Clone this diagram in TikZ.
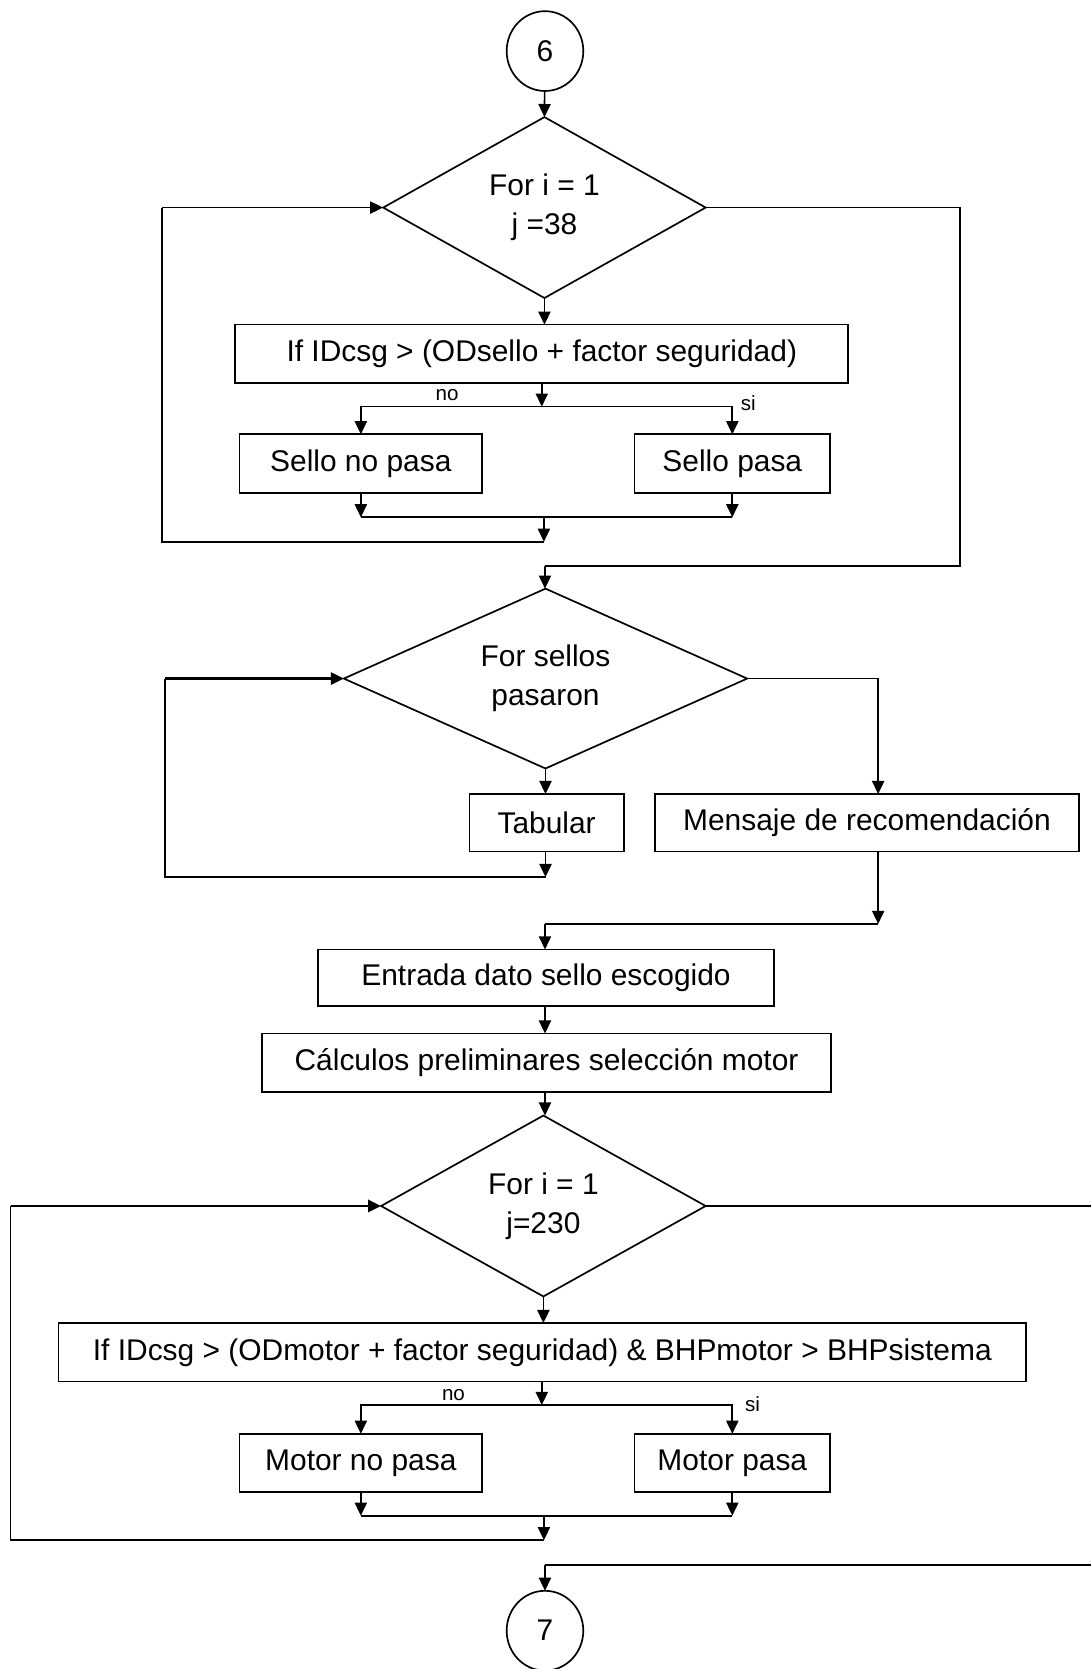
\documentclass[tikz,border=0pt]{standalone}
\usepackage{fontspec}
\setmainfont{Liberation Sans}
\usetikzlibrary{shapes.geometric,arrows.meta}
\begin{document}
\begin{tikzpicture}[x=0.02cm,y=-0.02cm,
  line width=0.9pt,
  every node/.style={font=\fontsize{16}{20}\selectfont, inner sep=0pt, outer sep=0pt},
  proc/.style={draw, rectangle, minimum height=1.1cm, align=center},
  dec/.style={draw, diamond, aspect=2.2, align=center},
  conn/.style={draw, ellipse, minimum width=1.44cm, minimum height=1.5cm},
  lbl/.style={font=\fontsize{11}{13}\selectfont},
  arr/.style={-{Triangle[length=7pt,width=6.5pt]}},
  bold/.style={line width=1.5pt}]
\useasboundingbox (0,0) rectangle (1025,1568);

% ---------- first loop: seals ----------
\node[conn] (c6) at (512,48) {6};
\node[dec, minimum width=6.06cm, minimum height=3.4cm] (d1) at (511.5,195) {For i = 1\\[1pt]j =38};
\node[proc, minimum width=11.52cm] (b1) at (509,332.5) {If IDcsg > (ODsello + factor seguridad)};
\coordinate (s1) at (509,382);
\node[proc, minimum width=4.56cm] (n1) at (339,435.5) {Sello no pasa};
\node[proc, minimum width=3.68cm] (p1) at (688,435.5) {Sello pasa};
\node[lbl] (no1) at (420,371) {no};
\node[lbl] (si1) at (703,379) {si};
\coordinate (j1) at (511,486);
\coordinate (r1) at (511,509);
\coordinate (l1) at (152,509);
\coordinate (e1) at (902,532);
\coordinate (t2) at (512,532);

\draw[arr] (c6) -- (d1.north);
\draw[arr] (d1.south) -- (d1.south |- b1.north);
\draw[arr] (b1.south -| s1) -- (s1);
\draw[arr] (s1) -| (n1.north);
\draw[arr] (s1) -| (p1.north);
\draw[arr] (n1.south) -- (n1.south |- j1);
\draw[arr] (p1.south) -- (p1.south |- j1);
\draw (n1.south |- j1) -- (p1.south |- j1);
\draw[arr] (j1) -- (r1);
\draw (r1) -- (l1) -- (l1 |- d1.west);
\draw[arr] (l1 |- d1.west) -- (d1.west);
\draw (d1.east) -| (e1) -- (t2);

% ---------- second loop: accepted seals ----------
\node[dec, minimum width=7.58cm, minimum height=3.38cm] (d2) at (512.5,637.5) {For sellos\\[1pt]pasaron};
\node[proc, minimum width=2.9cm, minimum height=1.08cm] (tab) at (513.5,773) {Tabular};
\node[proc, minimum width=7.98cm, minimum height=1.08cm] (msg) at (814.5,773) {Mensaje de recomendación};
\coordinate (r2) at (512.5,824);
\coordinate (l2) at (155,824);
\coordinate (m2) at (825,868);
\coordinate (t3) at (512,868);

\draw[arr] (t2) -- (t2 |- d2.north);
\draw[arr] (d2.south) -- (d2.south |- tab.north);
\draw[arr] (tab.south -| r2) -- (r2);
\draw (r2) -- (l2) -- (l2 |- d2.west);
\draw[arr,bold] (l2 |- d2.west) -- (d2.west);
\draw[arr] (d2.east) -| (msg.north -| m2);
\draw[arr] (msg.south -| m2) -- (m2);
\draw (m2) -- (t3);

% ---------- motor selection ----------
\node[proc, minimum width=8.56cm, minimum height=1.06cm] (ent) at (513,918.5) {Entrada dato sello escogido};
\node[proc, minimum width=10.7cm] (calc) at (513.5,998.5) {Cálculos preliminares selección motor};
\node[dec, minimum width=6.1cm, minimum height=3.4cm] (d3) at (510.5,1133) {For i = 1\\[1pt]j=230};
\node[proc, minimum width=18.18cm] (b3) at (509.5,1270.5) {If IDcsg > (ODmotor + factor seguridad) \& BHPmotor > BHPsistema};
\coordinate (s3) at (509,1320);
\node[proc, minimum width=4.56cm] (n3) at (339,1374.5) {Motor no pasa};
\node[proc, minimum width=3.68cm] (p3) at (688,1374.5) {Motor pasa};
\node[lbl] (no3) at (426,1311) {no};
\node[lbl] (si3) at (707,1319) {si};
\coordinate (j3) at (511,1424);
\coordinate (r3) at (511,1447);
\coordinate (l3) at (10,1447);
\coordinate (e3) at (1025,1133);
\coordinate (f3) at (1025,1470);
\coordinate (t4) at (512,1470);
\node[conn] (c7) at (512,1532) {7};

\draw[arr] (t3) -- (t3 |- ent.north);
\draw[arr] (ent.south -| t3) -- (t3 |- calc.north);
\draw[arr] (calc.south -| t3) -- (t3 |- d3.north);
\draw[arr] (d3.south) -- (d3.south |- b3.north);
\draw[arr] (b3.south -| s3) -- (s3);
\draw[arr] (s3) -| (n3.north);
\draw[arr] (s3) -| (p3.north);
\draw[arr] (n3.south) -- (n3.south |- j3);
\draw[arr] (p3.south) -- (p3.south |- j3);
\draw (n3.south |- j3) -- (p3.south |- j3);
\draw[arr] (j3) -- (r3);
\draw (r3) -- (l3) -- (l3 |- d3.west);
\draw[arr,bold] (l3 |- d3.west) -- (d3.west);
\draw (d3.east) -- (e3);
\draw (f3) -- (t4);
\draw[arr] (t4) -- (c7.north);
\end{tikzpicture}
\end{document}
